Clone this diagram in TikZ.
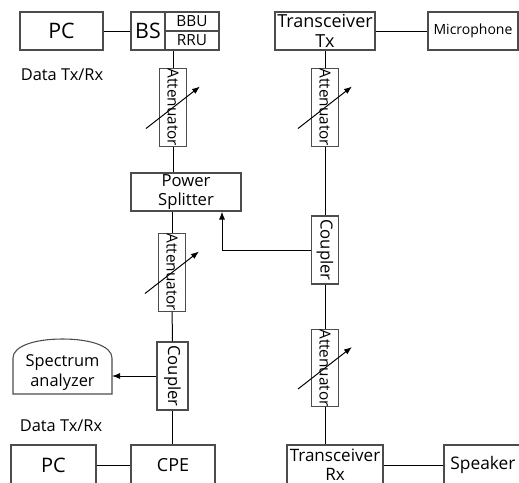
\documentclass[tikz,border=0pt]{standalone}
\usepackage{fontspec}
\setmainfont{Open Sans}
\usepackage{graphicx}
\usetikzlibrary{arrows.meta}

\newcommand{\px}{0.75pt}

\tikzset{
  box/.style={draw=black!70, line width=0.8pt, inner sep=0pt, align=center},
  hbox/.style={box, minimum width=#1*\px, minimum height=38*\px},
  vbox/.style={box, minimum width=27*\px, minimum height=#1*\px},
  tip/.style={-{Latex[length=6pt,width=4.5pt]}},
}

\begin{document}
\begin{tikzpicture}[x=0.75pt, y=-0.75pt, line width=0.75pt]
\useasboundingbox (0,0) rectangle (519,483);

% top row
\node[hbox=83, font=\fontsize{16}{18}\selectfont] (pc1) at (61.5,31) {PC};
\node[hbox=34, font=\fontsize{16}{18}\selectfont] (bs) at (148,31) {BS};
\node[box, minimum width=54*\px, minimum height=19*\px, font=\fontsize{11.5}{13}\selectfont] (bbu) at (192,21.5) {BBU};
\node[box, minimum width=54*\px, minimum height=19*\px, font=\fontsize{11.5}{13}\selectfont] (rru) at (192,40.5) {RRU};
\node[hbox=100, font=\fontsize{13.5}{15}\selectfont] (txtx) at (325,31) {Transceiver\\Tx};
\node[hbox=90, font=\fontsize{10.5}{12}\selectfont] (mic) at (473,31) {Microphone};
\node[font=\fontsize{12.3}{14}\selectfont] (data1) at (62,75) {Data Tx/Rx};

% left column
\node[vbox=75, font=\fontsize{11.5}{12}\selectfont] (att1) at (173,107.5) {\rotatebox{-90}{Attenuator}};
\node[hbox=110, font=\fontsize{12.5}{14.5}\selectfont] (split) at (186,192) {Power\\Splitter};
\node[vbox=75, font=\fontsize{11.5}{12}\selectfont] (att2) at (172,272.5) {\rotatebox{-90}{Attenuator}};
\node[box, minimum width=31*\px, minimum height=68*\px, font=\fontsize{12.5}{14}\selectfont] (coup1) at (172.5,376) {\rotatebox{-90}{Coupler}};

% spectrum analyzer
\draw[draw=black!70, line width=0.8pt] (13,394) -- (13,358) .. controls (13,346) and (35,339) .. (62.5,339)
  .. controls (90,339) and (112,346) .. (112,358) -- (112,394) -- cycle;
\node[align=center, font=\fontsize{12.3}{15}\selectfont] (spec) at (62.5,373) {Spectrum\\analyzer};
\coordinate (specin) at (112,376);

% bottom row
\node[font=\fontsize{12.3}{14}\selectfont] (data2) at (61,426) {Data Tx/Rx};
\node[hbox=85, minimum height=40*\px, font=\fontsize{15}{17}\selectfont] (pc2) at (53.5,465) {PC};
\node[hbox=84, minimum height=40*\px, font=\fontsize{13.5}{15}\selectfont] (cpe) at (173,465) {CPE};
\node[hbox=96, minimum height=40*\px, font=\fontsize{12.8}{14.5}\selectfont] (txrx) at (335,465) {Transceiver\\Rx};
\node[hbox=78, minimum height=40*\px, font=\fontsize{13}{15}\selectfont] (spk) at (483,465) {Speaker};

% right column
\node[vbox=75, font=\fontsize{11.5}{12}\selectfont] (att3) at (325,107.5) {\rotatebox{-90}{Attenuator}};
\node[box, minimum width=27*\px, minimum height=68*\px, font=\fontsize{12.5}{14}\selectfont] (coup2) at (325,250) {\rotatebox{-90}{Coupler}};
\node[vbox=76, font=\fontsize{11.5}{12}\selectfont] (att4) at (325,368) {\rotatebox{-90}{Attenuator}};

% connections
\draw (pc1) -- (bs);
\draw (txtx) -- (mic);
\draw (att1.north) -- (att1.north |- rru.south);
\draw (att1.south) -- (att1.south |- split.north);
\draw (att2.north) -- (att2.north |- split.south);
\draw (att2) -- (coup1);
\draw (coup1) -- (coup1 |- cpe.north);
\draw (pc2) -- (cpe);
\draw[tip] (coup1.west |- specin) -- (specin);
\draw (att3.north) -- (att3.north |- txtx.south);
\draw (att3) -- (coup2);
\draw (coup2) -- (att4);
\draw (att4.south) -- (att4.south |- txrx.north);
\draw (txrx) -- (spk);
\draw[tip] (coup2.west) -| ([xshift=36*\px]split.south);

% variable attenuator arrows
\foreach \a in {att1,att2,att3,att4}
  \draw[tip] ([shift={(-27,21)}]\a.center) -- ([shift={(27,-21)}]\a.center);

\end{tikzpicture}
\end{document}
